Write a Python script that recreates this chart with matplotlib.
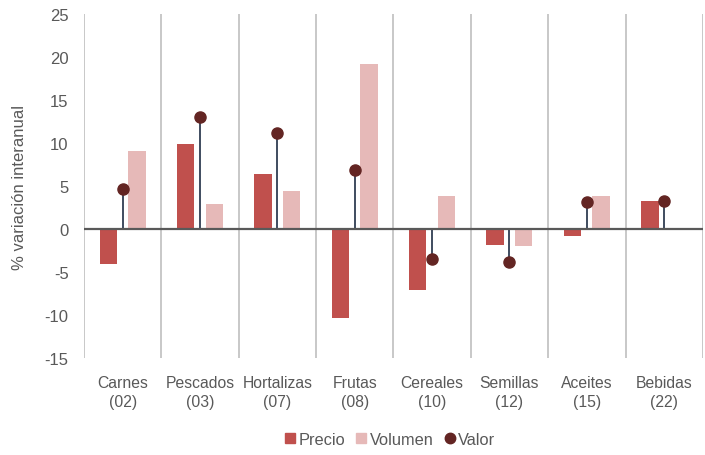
import matplotlib
matplotlib.use("Agg")
import matplotlib.pyplot as plt
from matplotlib.lines import Line2D
import numpy as np

categories = ["Carnes\n(02)", "Pescados\n(03)", "Hortalizas\n(07)", "Frutas\n(08)",
              "Cereales\n(10)", "Semillas\n(12)", "Aceites\n(15)", "Bebidas\n(22)"]
precio = [-4.1, 9.85, 6.4, -10.4, -7.1, -1.85, -0.8, 3.2]
volumen = [9.1, 2.9, 4.45, 19.15, 3.8, -2.0, 3.8, -0.15]
valor = [4.7, 13.05, 11.2, 6.85, -3.5, -3.85, 3.1, 3.25]
yticks = [-15, -10, -5, 0, 5, 10, 15, 20, 25]

plt.rcParams['font.family'] = ['Liberation Sans', 'DejaVu Sans']
c_precio = "#C0504D"
c_vol = "#E6B9B8"
c_valor = "#632523"
c_stem = "#1F2D44"
c_text = "#595959"

fig = plt.figure(figsize=(7.05, 4.56), dpi=100)
ax = fig.add_axes([0.119, 0.2127, 0.878, 0.7544])

x = np.arange(len(categories))
bw = 0.225
off = 0.185
ax.bar(x - off, precio, width=bw, color=c_precio, zorder=2)
ax.bar(x + off, volumen, width=bw, color=c_vol, zorder=2)
ax.vlines(x, 0, valor, color=c_stem, lw=1.2, zorder=3)
ax.axhline(0, color="#595959", lw=1.6, zorder=4)
ax.plot(x, valor, 'o', color=c_valor, ms=8, zorder=5)

for b in np.arange(len(categories) + 1) - 0.5:
    ax.axvline(b, color="#BFBFBF", lw=1.2, zorder=1)

ax.set_xlim(-0.5, len(categories) - 0.5)
ax.set_ylim(-15, 25)
ax.set_yticks(yticks)
ax.set_yticklabels([str(t) for t in yticks])
ax.set_xticks(x)
ax.set_xticklabels(categories, linespacing=1.4)
for s in ax.spines.values():
    s.set_visible(False)
ax.tick_params(axis='both', length=0, colors=c_text)
ax.tick_params(axis='x', pad=12, labelsize=11.3)
ax.tick_params(axis='y', pad=11, labelsize=12)
ax.set_ylabel("% variación interanual", fontsize=12, color=c_text)
ax.yaxis.set_label_coords(-0.092, 0.5)

handles = [
    Line2D([], [], marker='s', ls='none', color=c_precio, ms=7.5),
    Line2D([], [], marker='s', ls='none', color=c_vol, ms=7.5),
    Line2D([], [], marker='o', ls='none', color=c_valor, ms=7.5),
]
leg = fig.legend(handles, ["Precio", "Volumen", "Valor"], loc='center',
                 bbox_to_anchor=(0.551, 0.035), ncol=3, frameon=False,
                 fontsize=11.8, handletextpad=0.0, columnspacing=0.5,
                 handlelength=1.0)
for t in leg.get_texts():
    t.set_color(c_text)

fig.savefig("out.png", dpi=100)
